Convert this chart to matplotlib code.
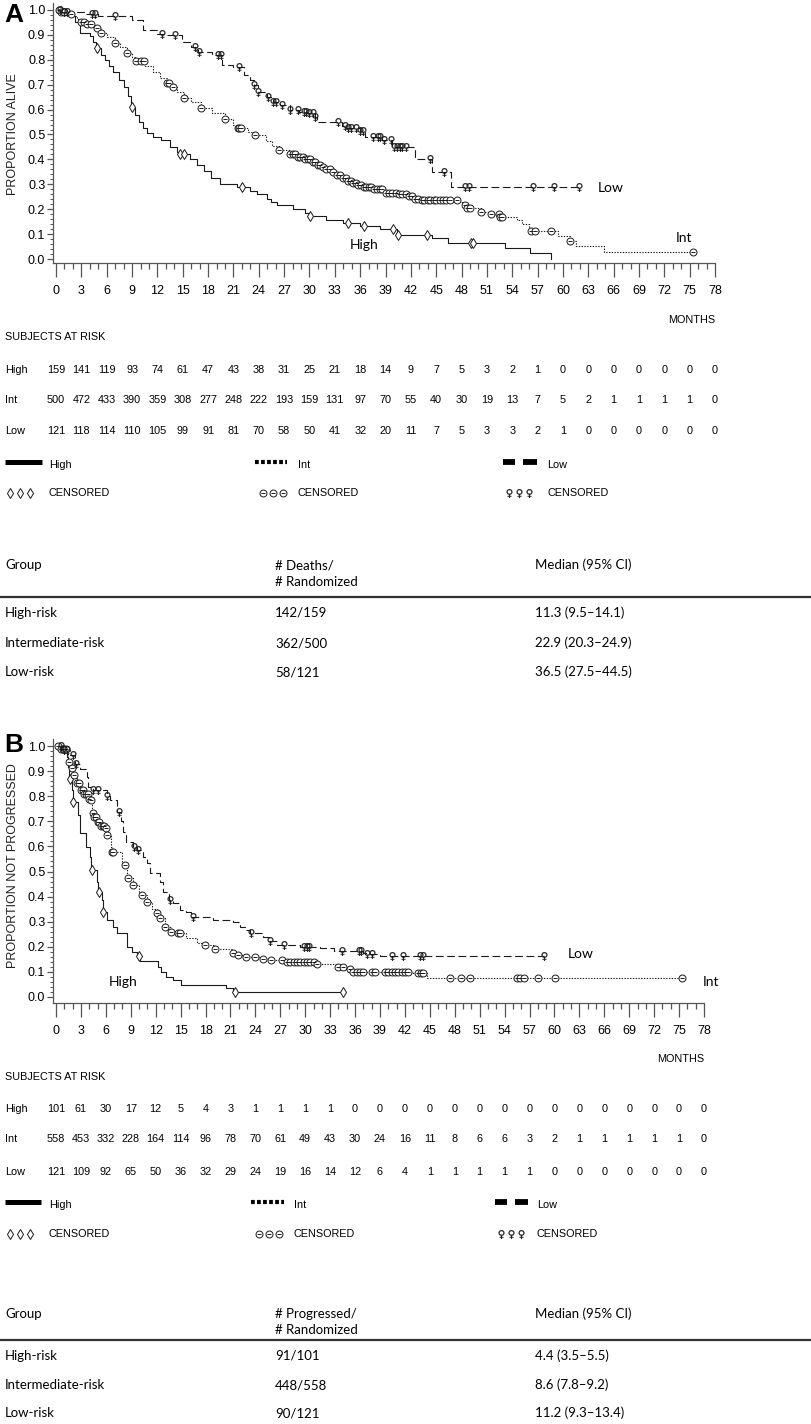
import numpy as np
import matplotlib
matplotlib.use('Agg')
import matplotlib.pyplot as plt
from matplotlib.lines import Line2D
import matplotlib.transforms as mtransforms

# ---------------- data ----------------
month_ticks = list(range(0, 79, 3))
groups = ['High', 'Int', 'Low']

# Panel A: overall survival (step curves: time, survival)
A_high_t = [0, 1.0, 1.8, 2.3, 2.8, 4.0, 4.4, 4.75, 5.3, 5.8, 6.3, 6.8, 7.4, 8.0, 8.5, 8.9, 9.4, 9.8, 10.3,
            10.75, 11.5, 12.4, 13.5, 14.3, 14.6, 15.8, 16.7, 17.5, 18.3, 19.4, 21.4, 23.0, 23.8, 25.0, 25.4,
            26.1, 28.1, 29.5, 29.9, 32.0, 34.0, 36.0, 38.3, 40.3, 44.5, 46.4, 53.1, 56.1, 58.6]
A_high_s = [1.0, 0.99, 0.975, 0.95, 0.906, 0.895, 0.87, 0.846, 0.82, 0.80, 0.775, 0.752, 0.72, 0.69, 0.655,
            0.61, 0.58, 0.55, 0.525, 0.505, 0.49, 0.478, 0.45, 0.43, 0.42, 0.40, 0.378, 0.355, 0.325, 0.30,
            0.29, 0.275, 0.26, 0.24, 0.23, 0.217, 0.20, 0.185, 0.173, 0.157, 0.146, 0.133, 0.119, 0.096,
            0.083, 0.063, 0.043, 0.023, 0.0]
A_high_end = 58.6
A_high_cens = [4.8, 9.0, 14.7, 15.2, 22.0, 30.1, 34.6, 36.4, 39.9, 40.5, 43.95, 49.1, 49.4]

A_int_t = [0, 0.5, 1.2, 1.9, 2.5, 2.9, 3.5, 4.3, 4.8, 5.3, 6.0, 7.0, 7.6, 8.4, 9.0, 9.5, 10.5, 11.5, 12.3,
           13.1, 13.5, 14.3, 15.2, 16.0, 17.2, 18.5, 20.0, 21.0, 21.5, 22.7, 23.6, 24.8, 25.6, 26.4, 27.6,
           28.5, 29.5, 30.2, 30.8, 31.4, 31.9, 32.5, 32.9, 34.0, 34.6, 35.2, 35.8, 36.4, 37.6, 38.8, 40.4,
           41.5, 42.4, 43.2, 47.7, 48.4, 48.6, 50.3, 51.5, 52.5, 54.6, 55.2, 56.0, 59.4, 60.8, 61.6, 64.9]
A_int_s = [1.0, 0.99, 0.985, 0.975, 0.962, 0.953, 0.945, 0.935, 0.926, 0.906, 0.89, 0.866, 0.85, 0.829, 0.81,
           0.797, 0.775, 0.75, 0.725, 0.705, 0.69, 0.67, 0.648, 0.63, 0.605, 0.585, 0.561, 0.54, 0.526, 0.51,
           0.498, 0.475, 0.455, 0.438, 0.42, 0.41, 0.40, 0.39, 0.378, 0.37, 0.361, 0.35, 0.337, 0.324, 0.314,
           0.304, 0.297, 0.29, 0.28, 0.267, 0.261, 0.255, 0.241, 0.237, 0.228, 0.215, 0.204, 0.188, 0.181,
           0.167, 0.155, 0.14, 0.114, 0.092, 0.074, 0.052, 0.027]
A_int_end = 75.4
A_int_cens = [0.3, 0.6, 1.0, 1.8, 2.9, 3.3, 3.7, 4.1, 4.8, 5.3, 7.0, 8.4, 9.5, 10.0, 10.4, 13.1, 13.4, 13.8,
              15.2, 17.2, 20.0, 21.5, 21.7, 21.9, 23.6, 26.4, 27.7, 28.0, 28.3, 28.6, 28.9, 29.2, 29.5, 29.8,
              30.1, 30.4, 30.7, 31.0, 31.3, 31.6, 32.0, 32.4, 32.8, 33.2, 33.6, 34.0, 34.3, 34.6, 34.9, 35.2,
              35.5, 35.8, 36.1, 36.4, 36.7, 37.0, 37.3, 37.6, 38.0, 38.3, 38.6, 39.0, 39.4, 39.8, 40.2, 40.6,
              41.0, 41.4, 41.8, 42.1, 42.5, 42.9, 43.3, 43.6, 44.0, 44.3, 44.7, 45.0, 45.4, 45.8, 46.2, 46.6,
              47.5, 48.4, 48.7, 49.0, 50.3, 51.5, 52.4, 52.6, 52.8, 56.2, 56.7, 58.6, 60.8, 75.4]

A_low_t = [0, 1.0, 3.5, 5.0, 9.0, 10.3, 12.0, 13.0, 14.9, 16.0, 16.8, 18.5, 19.6, 21.0, 22.2, 23.0, 23.4, 23.9,
           25.0, 25.7, 26.5, 27.7, 28.7, 29.7, 30.6, 30.9, 33.8, 34.4, 36.0, 36.6, 38.6, 39.8, 42.5, 44.5, 46.7]
A_low_s = [1.0, 0.992, 0.985, 0.975, 0.96, 0.92, 0.905, 0.90, 0.87, 0.85, 0.833, 0.82, 0.78, 0.77, 0.739,
           0.72, 0.70, 0.67, 0.652, 0.63, 0.62, 0.60, 0.592, 0.585, 0.571, 0.551, 0.535, 0.525, 0.515, 0.491,
           0.478, 0.451, 0.40, 0.348, 0.29]
A_low_end = 61.9
A_low_cens = [0.5, 1.0, 1.3, 4.3, 4.6, 7.0, 12.6, 14.1, 16.5, 16.9, 19.2, 19.5, 21.6, 23.4, 23.9, 25.1, 25.7,
              26.0, 26.7, 27.7, 28.6, 29.3, 29.6, 29.9, 30.4, 30.7, 33.4, 34.2, 34.6, 34.9, 35.5, 36.0, 36.3,
              37.5, 38.1, 38.4, 38.8, 39.6, 40.0, 40.3, 40.7, 41.0, 41.4, 44.3, 45.9, 48.4, 48.9, 56.5, 58.9,
              61.9]

# Panel B: progression-free survival
B_high_t = [0, 0.7, 1.3, 1.5, 1.6, 1.9, 2.0, 2.7, 2.9, 3.6, 4.1, 4.2, 4.9, 5.1, 5.5, 5.6, 6.1, 6.9, 7.3, 8.6,
            9.1, 9.8, 10.1, 12.3, 12.6, 13.3, 14.1, 15.0, 20.5, 21.3]
B_high_s = [1.0, 0.98, 0.958, 0.918, 0.867, 0.825, 0.778, 0.725, 0.652, 0.599, 0.559, 0.506, 0.459, 0.42,
            0.386, 0.34, 0.307, 0.28, 0.254, 0.20, 0.18, 0.163, 0.145, 0.12, 0.10, 0.081, 0.068, 0.048, 0.035,
            0.021]
B_high_end = 34.6
B_high_cens = [1.65, 2.05, 4.3, 5.2, 5.7, 10.0, 21.5, 34.6]

B_int_t = [0, 0.5, 1.3, 1.5, 1.9, 2.1, 2.5, 2.9, 3.4, 3.9, 4.1, 4.3, 4.5, 4.9, 5.3, 5.9, 6.1, 6.2, 6.6, 6.7,
           7.9, 8.1, 8.6, 9.3, 10.0, 10.3, 10.9, 11.6, 12.1, 12.5, 13.1, 13.9, 14.7, 15.7, 17.0, 17.9, 19.1,
           21.3, 21.9, 22.9, 23.9, 24.9, 25.9, 27.8, 29.4, 31.4, 34.0, 35.0, 35.8, 43.0, 44.7]
B_int_s = [1.0, 0.99, 0.97, 0.937, 0.911, 0.885, 0.851, 0.825, 0.81, 0.79, 0.785, 0.732, 0.718, 0.698, 0.681,
           0.672, 0.665, 0.645, 0.599, 0.579, 0.533, 0.526, 0.473, 0.446, 0.42, 0.406, 0.38, 0.35, 0.333,
           0.313, 0.28, 0.26, 0.254, 0.234, 0.215, 0.207, 0.19, 0.174, 0.167, 0.161, 0.158, 0.15, 0.147,
           0.141, 0.138, 0.131, 0.118, 0.11, 0.101, 0.094, 0.074]
B_int_end = 75.3
B_int_cens = [0.3, 0.6, 0.8, 1.0, 1.2, 1.6, 1.9, 2.2, 2.5, 2.8, 3.0, 3.2, 3.4, 3.6, 3.8, 4.0, 4.2, 4.4, 4.6,
              4.8, 5.0, 5.2, 5.4, 5.6, 5.8, 6.0, 6.2, 6.8, 6.9, 8.3, 8.7, 9.3, 10.3, 10.9, 12.1, 12.5, 13.1,
              13.9, 14.7, 14.9, 17.9, 19.1, 21.3, 21.9, 22.9, 23.9, 24.9, 25.9, 27.2, 27.8, 28.2, 28.6, 29.0,
              29.4, 29.8, 30.2, 30.6, 31.0, 31.4, 34.0, 34.6, 35.4, 35.8, 36.2, 36.6, 37.0, 38.0, 38.4, 39.6,
              40.0, 40.4, 40.8, 41.2, 41.6, 42.0, 42.4, 43.6, 43.9, 44.2, 47.4, 48.8, 49.8, 55.5, 55.9, 56.3,
              58.0, 60.1, 75.3]

B_low_t = [0, 0.7, 1.7, 2.3, 2.9, 3.7, 3.9, 4.4, 6.1, 6.5, 7.3, 7.8, 8.1, 8.4, 9.3, 9.8, 10.5, 10.9, 11.3,
           12.5, 12.9, 13.6, 14.1, 14.9, 15.7, 16.3, 18.9, 21.3, 22.1, 22.9, 23.4, 24.9, 25.6, 26.6, 29.4,
           31.8, 33.5, 37.0, 37.3, 39.0]
B_low_s = [1.0, 0.984, 0.964, 0.93, 0.91, 0.878, 0.838, 0.825, 0.80, 0.785, 0.738, 0.70, 0.659, 0.619, 0.599,
           0.586, 0.559, 0.533, 0.493, 0.46, 0.42, 0.386, 0.373, 0.347, 0.34, 0.32, 0.307, 0.30, 0.28, 0.267,
           0.256, 0.24, 0.224, 0.207, 0.198, 0.194, 0.185, 0.174, 0.17, 0.163]
B_low_end = 58.7
B_low_cens = [0.6, 1.0, 1.3, 2.0, 2.4, 4.5, 5.0, 6.1, 7.6, 9.4, 9.9, 13.7, 16.5, 23.5, 25.7, 27.4, 29.9, 30.2,
              30.5, 34.4, 36.5, 36.7, 37.4, 38.0, 40.4, 41.8, 43.8, 44.2, 58.7]

# numbers at risk
A_risk_high = [159, 141, 119, 93, 74, 61, 47, 43, 38, 31, 25, 21, 18, 14, 9, 7, 5, 3, 2, 1, 0, 0, 0, 0, 0, 0, 0]
A_risk_int = [500, 472, 433, 390, 359, 308, 277, 248, 222, 193, 159, 131, 97, 70, 55, 40, 30, 19, 13, 7, 5, 2,
              1, 1, 1, 1, 0]
A_risk_low = [121, 118, 114, 110, 105, 99, 91, 81, 70, 58, 50, 41, 32, 20, 11, 7, 5, 3, 3, 2, 1, 0, 0, 0, 0, 0, 0]
B_risk_high = [101, 61, 30, 17, 12, 5, 4, 3, 1, 1, 1, 1, 0, 0, 0, 0, 0, 0, 0, 0, 0, 0, 0, 0, 0, 0, 0]
B_risk_int = [558, 453, 332, 228, 164, 114, 96, 78, 70, 61, 49, 43, 30, 24, 16, 11, 8, 6, 6, 3, 2, 1, 1, 1, 1,
              1, 0]
B_risk_low = [121, 109, 92, 65, 50, 36, 32, 29, 24, 19, 16, 14, 12, 6, 4, 1, 1, 1, 1, 1, 0, 0, 0, 0, 0, 0, 0]

# summary tables
table_groups = ['High-risk', 'Intermediate-risk', 'Low-risk']
A_events = ['142/159', '362/500', '58/121']
A_medians = ['11.3 (9.5\u201314.1)', '22.9 (20.3\u201324.9)', '36.5 (27.5\u201344.5)']
B_events = ['91/101', '448/558', '90/121']
B_medians = ['4.4 (3.5\u20135.5)', '8.6 (7.8\u20139.2)', '11.2 (9.3\u201313.4)']

# ---------------- drawing ----------------
W, H = 812, 1424
fig = plt.figure(figsize=(W / 100, H / 100), dpi=100)

NARROW = ['Liberation Sans', 'DejaVu Sans']
ARIAL = ['Liberation Sans', 'DejaVu Sans']
CAL = ['Lato', 'DejaVu Sans']
LC = '#1a1a1a'
AXC = '#555555'
SMALL = 7.8


def fx(px):
    return px / W


def fy(py):
    return 1 - py / H


def txt(x, y, s, size=SMALL, family=NARROW, ha='left', va='center', **kw):
    fig.text(fx(x), fy(y), s, fontsize=size, family=family, ha=ha, va=va, **kw)


STY = {
    'High': dict(ls='-', lw=0.8),
    'Int': dict(ls=(0, (1.2, 1.3)), lw=0.8),
    'Low': dict(ls=(0, (7, 3.2)), lw=0.8),
}


def cens_marks(ax, x, y, grp, transform=None):
    kw = {} if transform is None else dict(transform=transform)
    if grp == 'High':
        ax.plot(x, y, ls='none', marker='d', ms=5.6, mfc='white', mec=LC, mew=0.7, zorder=4, **kw)
    elif grp == 'Int':
        ax.plot(x, y, ls='none', marker='o', ms=5.0, mfc='white', mec=LC, mew=0.7, zorder=4, **kw)
        ax.plot(x, y, ls='none', marker='_', ms=2.3, mec=LC, mew=0.7, zorder=5, **kw)
    else:
        ax.plot(x, y, ls='none', marker='$\u2640$', ms=6.3, mfc=LC, mec=LC, mew=0.2, zorder=4, **kw)


def km(ax, t, s, t_end, cens, grp):
    t = np.asarray(t, float)
    s = np.asarray(s, float)
    tt = np.append(t, t_end)
    ss = np.append(s, s[-1])
    ax.step(tt, ss, where='post', color=LC, zorder=3, **STY[grp])
    cens = np.asarray(cens, float)
    idx = np.searchsorted(t, cens, side='right') - 1
    cens_marks(ax, cens, s[idx], grp)


def setup_axes(ax, ylabel_text, ylabel_y):
    ax.set_xlim(-0.36, 78)
    for sp in ['top', 'right']:
        ax.spines[sp].set_visible(False)
    for sp in ['left', 'bottom']:
        ax.spines[sp].set_color(AXC)
        ax.spines[sp].set_linewidth(0.9)
    ax.set_xticks(month_ticks)
    ax.set_xticklabels([str(m) for m in month_ticks], fontfamily=NARROW, fontsize=9)
    ax.set_xticks(np.arange(0, 79, 1), minor=True)
    yt = np.round(np.arange(0, 1.01, 0.1), 1)
    ax.set_yticks(yt)
    ax.set_yticklabels(['%.1f' % v for v in yt], fontfamily=NARROW, fontsize=9)
    ax.set_yticks(np.arange(0, 1.001, 0.02), minor=True)
    ax.tick_params(axis='x', which='major', length=10, width=0.9, color=AXC, pad=6)
    ax.tick_params(axis='x', which='minor', length=4, width=0.9, color=AXC)
    ax.tick_params(axis='y', which='major', length=4, width=0.9, color=AXC, pad=1.5)
    ax.tick_params(axis='y', which='minor', length=2, width=0.7, color=AXC)
    txt(13, ylabel_y, ylabel_text, size=9, family=ARIAL, ha='center', rotation=90, color='#222222')


def risk_table(ax, y_title, y_rows, rows):
    trans = mtransforms.blended_transform_factory(ax.transData, fig.transFigure)
    txt(5, y_title, 'SUBJECTS AT RISK')
    for grp, vals, yy in zip(groups, rows, y_rows):
        txt(5, yy, grp)
        for m, v in zip(month_ticks, vals):
            fig.text(m, fy(yy), str(v), transform=trans, ha='center', va='center',
                     fontsize=SMALL, family=NARROW)


def legend_block(y_leg, y_cens, xs):
    (h0, h1, htx), (i0, i1, itx), (l0, l1, l2, l3, ltx) = xs
    fig.add_artist(Line2D([fx(h0), fx(h1)], [fy(y_leg)] * 2, lw=3.6, color='black',
                          solid_capstyle='butt', transform=fig.transFigure))
    fig.add_artist(Line2D([fx(i0), fx(i1)], [fy(y_leg)] * 2, lw=3.0, color='black',
                          ls=(0, (0.9, 0.55)), dash_capstyle='butt', transform=fig.transFigure))
    for a, b in [(l0, l1), (l2, l3)]:
        fig.add_artist(Line2D([fx(a), fx(b)], [fy(y_leg)] * 2, lw=4.2, color='black',
                              solid_capstyle='butt', transform=fig.transFigure))
    txt(htx, y_leg + 3, 'High')
    txt(itx, y_leg + 3, 'Int')
    txt(ltx, y_leg + 3, 'Low')
    ax0 = fig.add_axes([0, 0, 1, 1], facecolor='none')
    ax0.set_axis_off()
    ax0.set_xlim(0, W)
    ax0.set_ylim(H, 0)
    for grp, x0, tx in zip(groups, [h0 + 5, i0 + 8, l0 + 6], [htx, itx, ltx]):
        xs_ = [x0, x0 + 10, x0 + 20]
        cens_marks(ax0, xs_, [y_cens] * 3, grp)
        txt(tx, y_cens, 'CENSORED')


def summary_table(y_head, y_head2, y_line, y_rows, col2_title, events, medians):
    txt(5, y_head, 'Group', size=9.5, family=CAL)
    txt(275, y_head, col2_title, size=9.5, family=CAL)
    txt(275, y_head2, '# Randomized', size=9.5, family=CAL)
    txt(535, y_head, 'Median (95% CI)', size=9.5, family=CAL)
    fig.add_artist(Line2D([0, fx(810)], [fy(y_line)] * 2, lw=1.6, color='#333333',
                          transform=fig.transFigure))
    for g, e, m, yy in zip(table_groups, events, medians, y_rows):
        txt(5, yy, g, size=9.5, family=CAL)
        txt(275, yy, e, size=9.5, family=CAL)
        txt(535, yy, m, size=9.5, family=CAL)


# ----- Panel A -----
axA = fig.add_axes([fx(53), fy(263), fx(715) - fx(53), fy(3) - fy(263)])
axA.set_ylim(-0.016, 1.028)
setup_axes(axA, 'PROPORTION ALIVE', 134)
km(axA, A_high_t, A_high_s, A_high_end, A_high_cens, 'High')
km(axA, A_int_t, A_int_s, A_int_end, A_int_cens, 'Int')
km(axA, A_low_t, A_low_s, A_low_end, A_low_cens, 'Low')
axA.text(36.5, 0.056, 'High', family=CAL, fontsize=10, ha='center', va='center')
axA.text(65.7, 0.284, 'Low', family=CAL, fontsize=10, ha='center', va='center')
axA.text(74.3, 0.086, 'Int', family=CAL, fontsize=10, ha='center', va='center')
txt(715, 320, 'MONTHS', ha='right')
txt(14, 15, 'A', size=19, family=ARIAL, ha='center', weight='bold')
risk_table(axA, 337, [370, 400, 431], [A_risk_high, A_risk_int, A_risk_low])
legend_block(462, 493, [(5, 42, 49), (255, 287, 298), (503, 515, 523, 537, 547)])
summary_table(565, 582, 597, [613, 643, 672], '# Deaths/', A_events, A_medians)

# ----- Panel B -----
axB = fig.add_axes([fx(53), fy(1003), fx(704) - fx(53), fy(739) - fy(1003)])
axB.set_ylim(-0.024, 1.028)
setup_axes(axB, 'PROPORTION NOT PROGRESSED', 866)
km(axB, B_high_t, B_high_s, B_high_end, B_high_cens, 'High')
km(axB, B_int_t, B_int_s, B_int_end, B_int_cens, 'Int')
km(axB, B_low_t, B_low_s, B_low_end, B_low_cens, 'Low')
axB.text(8.1, 0.061, 'High', family=CAL, fontsize=10, ha='center', va='center')
axB.text(63.1, 0.171, 'Low', family=CAL, fontsize=10, ha='center', va='center')
axB.text(78.9, 0.058, 'Int', family=CAL, fontsize=10, ha='center', va='center', clip_on=False)
txt(704, 1059, 'MONTHS', ha='right')
txt(14, 745, 'B', size=19, family=ARIAL, ha='center', weight='bold')
risk_table(axB, 1077, [1109, 1139, 1172], [B_risk_high, B_risk_int, B_risk_low])
legend_block(1202, 1234, [(5, 41, 49), (251, 284, 294), (495, 507, 515, 528, 537)])
summary_table(1314, 1330, 1340, [1356, 1385, 1413], '# Progressed/', B_events, B_medians)

fig.savefig('out.png', dpi=100)
